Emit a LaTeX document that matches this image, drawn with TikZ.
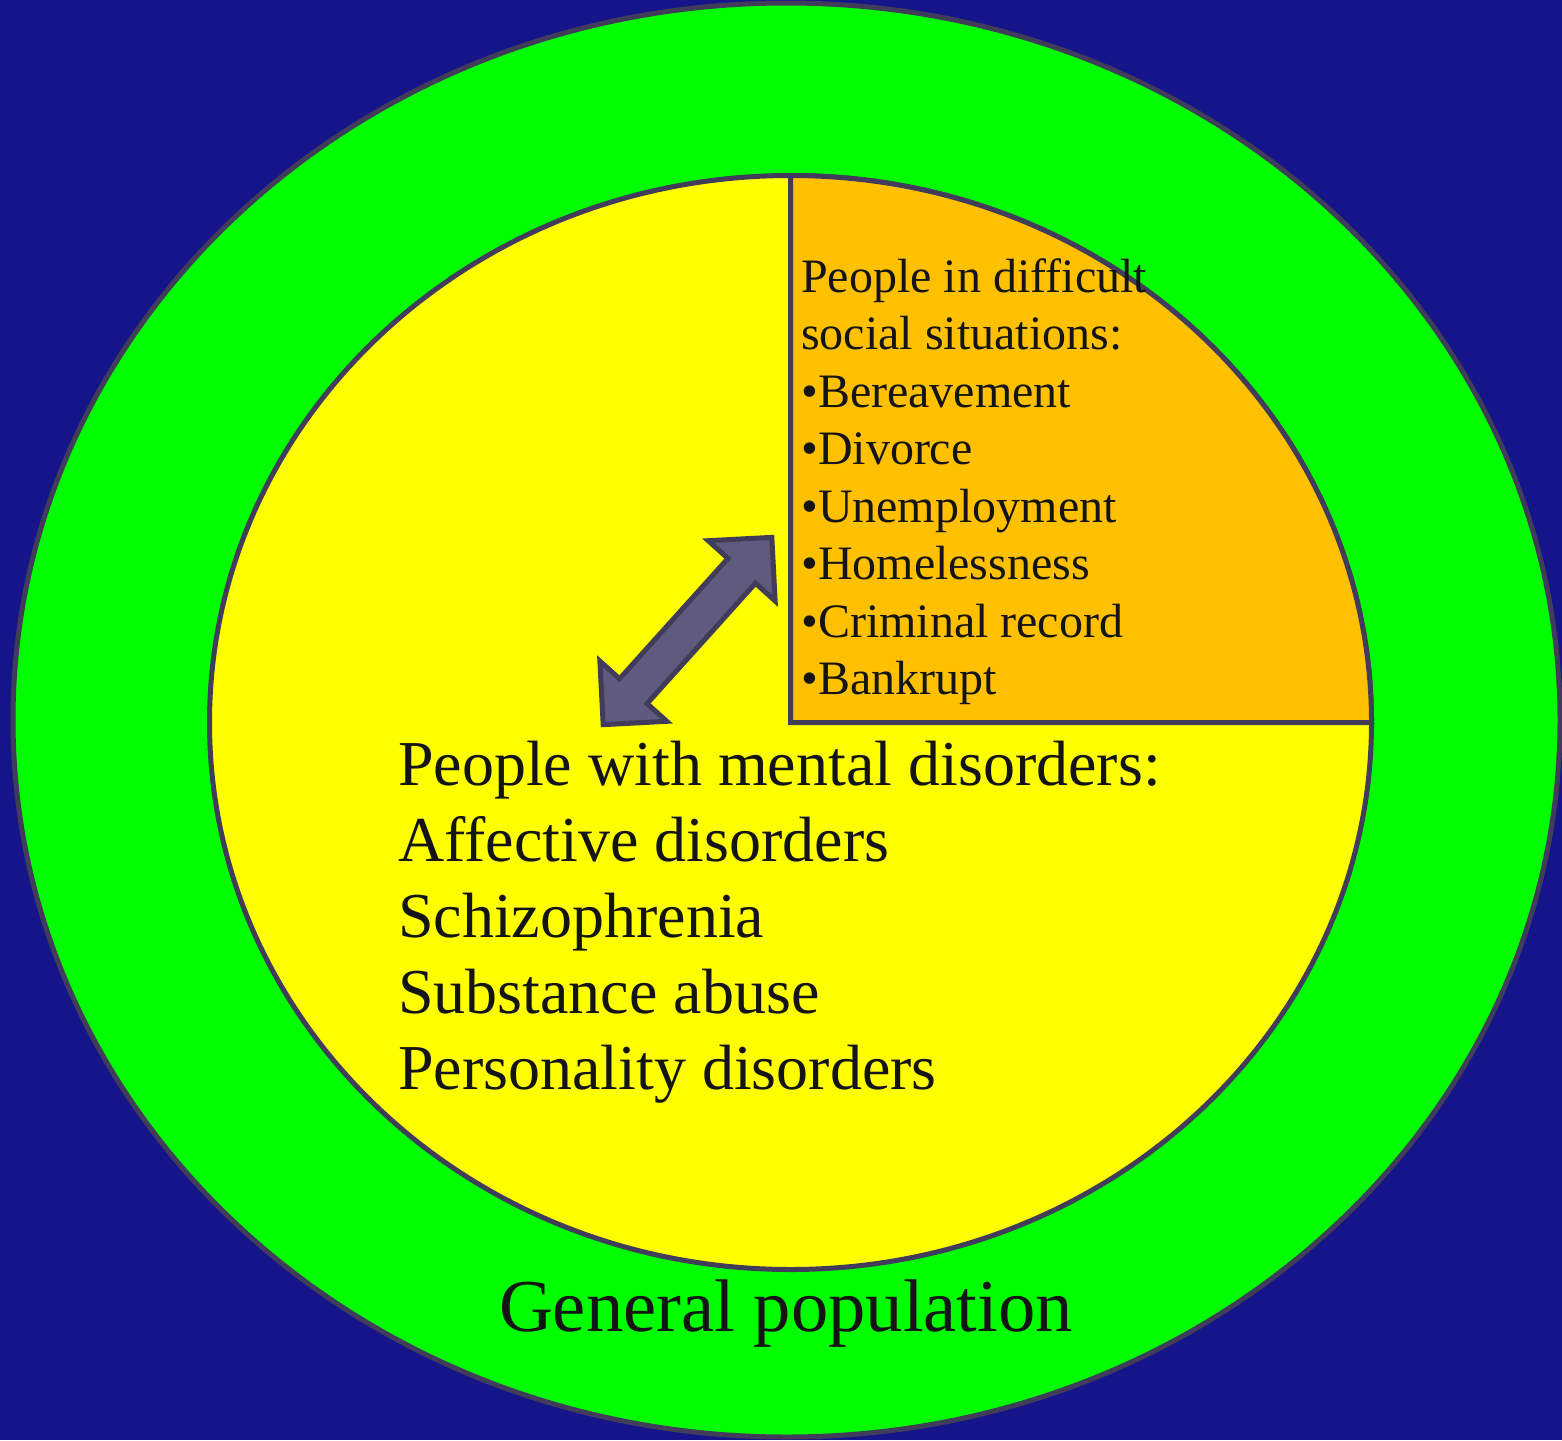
\documentclass[tikz,border=0pt]{standalone}
\usepackage{fontspec}
\setmainfont{Liberation Serif}
\definecolor{navybg}{RGB}{21,21,137}
\definecolor{popgreen}{RGB}{0,255,0}
\definecolor{mentalyellow}{RGB}{255,255,0}
\definecolor{socialorange}{RGB}{255,192,0}
\definecolor{edge}{RGB}{64,60,90}
\definecolor{arrowfill}{RGB}{95,90,126}
\definecolor{ink}{RGB}{20,20,20}
\tikzset{
  region/.style={draw=edge, line width=5pt},
  label/.style={inner sep=0pt, text=ink, align=left},
}
\begin{document}
\begin{tikzpicture}[x=1pt, y=-1pt]
  % canvas
  \fill[navybg] (0,0) rectangle (1562,1440);
  \useasboundingbox (0,0) rectangle (1562,1440);

  % general population
  \path[region, fill=popgreen] (786.5,720) ellipse [x radius=773.5, y radius=717];
  % people with mental disorders
  \path[region, fill=mentalyellow] (790.5,722.5) ellipse [x radius=581, y radius=547];
  % people in difficult social situations (upper right quarter)
  \path[region, fill=socialorange, line join=miter]
    (790.5,722.5) -- (790.5,175.5) arc [start angle=-90, end angle=0, x radius=581, y radius=547] -- cycle;

  % two-way block arrow between the groups
  \begin{scope}[shift={(687.5,631)}, rotate=48]
    \path[draw=edge, line width=5pt, fill=arrowfill, line join=miter]
      (126,0) -- (81,45) -- (81,18.5) -- (-81,18.5) -- (-81,45) -- (-126,0)
      -- (-81,-45) -- (-81,-18.5) -- (81,-18.5) -- (81,-45) -- cycle;
  \end{scope}

  % texts (base anchor sits on the last line)
  \node[label, anchor=base west, font=\fontsize{48}{57.5}\selectfont] (social) at (801,694.5)
    {People in difficult\\social situations:\\•Bereavement\\•Divorce\\•Unemployment\\•Homelessness\\•Criminal record\\•Bankrupt};
  \node[label, anchor=base west, font=\fontsize{64}{76}\selectfont] (mental) at (398,1089)
    {People with mental disorders:\\Affective disorders\\Schizophrenia\\Substance abuse\\Personality disorders};
  \node[label, anchor=base, font=\fontsize{74.6}{90}\selectfont] (general) at (786,1331) {General population};
\end{tikzpicture}
\end{document}
